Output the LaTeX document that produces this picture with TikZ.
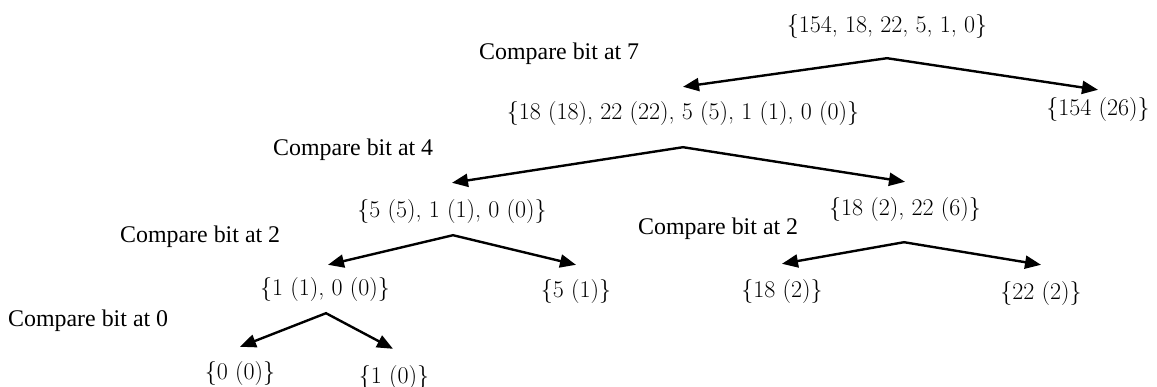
\documentclass[tikz,border=0pt]{standalone}
\usepackage{fontspec}
\newfontfamily\lblfont{Liberation Serif}
\usetikzlibrary{arrows.meta}
\begin{document}
\begin{tikzpicture}[x=1pt,y=-1pt,
  setnode/.style={inner sep=0pt, font=\fontsize{24}{28}\selectfont},
  lbl/.style={inner sep=0pt, anchor=base west, font=\lblfont\fontsize{23.9}{28}\selectfont},
  split/.style={line width=2.4pt, line join=miter,
    {Triangle[length=16pt,width=13pt]}-{Triangle[length=16pt,width=13pt]}}]
\useasboundingbox (0,0) rectangle (1157,386);
% set nodes
\node[setnode] (r)   at (887,26)  {\{154, 18, 22, 5, 1, 0\}};
\node[setnode] (n1)  at (683,113) {\{18 (18), 22 (22), 5 (5), 1 (1), 0 (0)\}};
\node[setnode] (n2)  at (1098,109) {\{154 (26)\}};
\node[setnode] (n3)  at (452,211) {\{5 (5), 1 (1), 0 (0)\}};
\node[setnode] (n4)  at (905,209) {\{18 (2), 22 (6)\}};
\node[setnode] (n5)  at (325,289) {\{1 (1), 0 (0)\}};
\node[setnode] (n6)  at (576,291) {\{5 (1)\}};
\node[setnode] (n7)  at (782,291) {\{18 (2)\}};
\node[setnode] (n8)  at (1041,293) {\{22 (2)\}};
\node[setnode] (n9)  at (240,373) {\{0 (0)\}};
\node[setnode] (n10) at (394,377) {\{1 (0)\}};
% labels
\node[lbl] (l7)  at (479,59)  {Compare bit at 7};
\node[lbl] (l4)  at (273,155) {Compare bit at 4};
\node[lbl] (l2a) at (120,242) {Compare bit at 2};
\node[lbl] (l2b) at (638,234) {Compare bit at 2};
\node[lbl] (l0)  at (8,326)   {Compare bit at 0};
% connectors
\draw[split] ([yshift=14pt]n1.north) -- ([yshift=-20pt]r.south) -- ([yshift=7pt]n2.north);
\draw[split] ([yshift=16pt]n3.north) -- ([yshift=-22pt]n1.south) -- ([yshift=15pt]n4.north);
\draw[split] ([xshift=3pt,yshift=12pt]n5.north) -- ([xshift=1pt,yshift=-12pt]n3.south) -- ([yshift=14pt]n6.north);
\draw[split] ([yshift=15pt]n7.north) -- ([xshift=-1pt,yshift=-21pt]n4.south) -- ([yshift=16pt]n8.north);
\draw[split] ([yshift=14pt]n9.north) -- ([xshift=1pt,yshift=-12pt]n5.south) -- ([xshift=-1pt,yshift=16pt]n10.north);
\end{tikzpicture}
\end{document}
